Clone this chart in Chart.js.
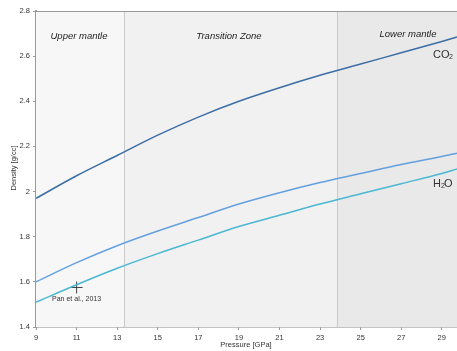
<!DOCTYPE html>
<html>
<head>
<meta charset="utf-8">
<script src="https://cdn.jsdelivr.net/npm/chart.js@4/dist/chart.umd.min.js"></script>
<style>
  html, body { margin: 0; padding: 0; background: #fff; }
  #wrap { width: 457px; height: 351px; }
</style>
</head>
<body>
<div id="wrap"><canvas id="myChart"></canvas></div>
<script>
// pressure values (GPa) used for all curves
const pressure = [9, 11, 13, 15, 17, 19, 21, 23, 25, 27, 29, 29.75];
const co2Density = [1.97, 2.07, 2.16, 2.25, 2.33, 2.40, 2.46, 2.515, 2.565, 2.615, 2.665, 2.685];
const h2oUpper = [1.60, 1.685, 1.76, 1.825, 1.885, 1.945, 1.995, 2.04, 2.08, 2.12, 2.155, 2.17];
const h2oLower = [1.51, 1.587, 1.66, 1.725, 1.785, 1.845, 1.895, 1.945, 1.99, 2.035, 2.08, 2.10];

const panPoint = [{ x: 11, y: 1.575 }];

const xTicks = [9, 11, 13, 15, 17, 19, 21, 23, 25, 27, 29];
const yTicks = [1.4, 1.6, 1.8, 2.0, 2.2, 2.4, 2.6, 2.8];

// mantle zone boundaries (GPa)
const zoneEdges = [9, 13.33, 23.83, 29.75];
const zoneNames = ['Upper mantle', 'Transition Zone', 'Lower mantle'];
const zoneColors = ['#f7f7f7', '#f1f1f1', '#e9e9e9'];

const FONT = '"Liberation Sans", Arial, sans-serif';

function toPoints(ys) {
    return pressure.map((p, i) => ({ x: p, y: ys[i] }));
}

const zonesPlugin = {
    id: 'zones',
    beforeDatasetsDraw(chart) {
        const { ctx, chartArea, scales } = chart;
        const x = scales.x;
        ctx.save();
        for (let i = 0; i < zoneNames.length; i++) {
            const x0 = x.getPixelForValue(zoneEdges[i]);
            const x1 = x.getPixelForValue(zoneEdges[i + 1]);
            ctx.fillStyle = zoneColors[i];
            ctx.fillRect(x0, chartArea.top, x1 - x0, chartArea.bottom - chartArea.top);
        }
        // separators
        ctx.strokeStyle = '#c9c9c9';
        ctx.lineWidth = 1;
        [1, 2].forEach(i => {
            const px = Math.round(x.getPixelForValue(zoneEdges[i])) + 0.5;
            ctx.beginPath();
            ctx.moveTo(px, chartArea.top);
            ctx.lineTo(px, chartArea.bottom);
            ctx.stroke();
        });
        // top frame line
        ctx.strokeStyle = '#999';
        ctx.beginPath();
        ctx.moveTo(chartArea.left, chartArea.top + 0.5);
        ctx.lineTo(chartArea.right, chartArea.top + 0.5);
        ctx.stroke();
        ctx.restore();
    },
    afterDatasetsDraw(chart) {
        const { ctx, scales } = chart;
        const x = scales.x;
        ctx.save();
        ctx.fillStyle = '#222';
        ctx.textBaseline = 'middle';
        ctx.font = 'italic 9.5px ' + FONT;
        ctx.textAlign = 'center';
        ctx.fillText(zoneNames[0], 79, 36);
        ctx.fillText(zoneNames[1], 229, 36);
        ctx.fillText(zoneNames[2], 408, 34);

        // species labels
        ctx.fillStyle = '#333';
        ctx.textAlign = 'left';
        ctx.font = '11px ' + FONT;
        ctx.fillText('CO', 433, 55);
        ctx.font = '7px ' + FONT;
        ctx.fillText('2', 449, 57);
        ctx.font = '11px ' + FONT;
        ctx.fillText('H', 433, 184);
        ctx.font = '7px ' + FONT;
        ctx.fillText('2', 441, 186);
        ctx.font = '11px ' + FONT;
        ctx.fillText('O', 444, 184);

        // Pan et al. label
        ctx.font = '7px ' + FONT;
        ctx.textAlign = 'center';
        ctx.fillText('Pan et al., 2013', x.getPixelForValue(11), 299);

        // axis titles
        ctx.font = '7.5px ' + FONT;
        ctx.fillText('Pressure [GPa]', 246, 345);
        ctx.translate(14, 168);
        ctx.rotate(-Math.PI / 2);
        ctx.fillText('Density [g/cc]', 0, 0);
        ctx.restore();
    }
};

const data = {
    datasets: [
        {
            label: 'CO2',
            data: toPoints(co2Density),
            borderColor: '#3c6ea6',
            borderWidth: 1.5,
            pointRadius: 0,
            cubicInterpolationMode: 'monotone'
        },
        {
            label: 'H2O (upper)',
            data: toPoints(h2oUpper),
            borderColor: '#64a0e0',
            borderWidth: 1.5,
            pointRadius: 0,
            cubicInterpolationMode: 'monotone'
        },
        {
            label: 'H2O (lower)',
            data: toPoints(h2oLower),
            borderColor: '#4ab7d3',
            borderWidth: 1.5,
            pointRadius: 0,
            cubicInterpolationMode: 'monotone'
        },
        {
            type: 'scatter',
            label: 'Pan et al., 2013',
            data: panPoint,
            pointStyle: 'cross',
            pointRadius: 6,
            borderColor: '#444',
            borderWidth: 1,
            backgroundColor: '#444'
        }
    ]
};

const config = {
    type: 'line',
    data: data,
    options: {
        responsive: true,
        maintainAspectRatio: false,
        animation: false,
        layout: { autoPadding: false, padding: { top: 11, right: 0, left: 0, bottom: 0 } },
        plugins: {
            legend: { display: false },
            tooltip: { enabled: false }
        },
        scales: {
            x: {
                type: 'linear',
                min: 9,
                max: 29.75,
                afterBuildTicks: s => { s.ticks = xTicks.map(v => ({ value: v })); },
                afterFit: s => { s.height = 24; s.paddingLeft = 0; s.paddingRight = 0; },
                grid: { drawOnChartArea: false, tickLength: 3, color: '#999' },
                border: { color: '#888', width: 1.5 },
                ticks: {
                    font: { size: 7.5, family: FONT },
                    color: '#333',
                    padding: 3,
                    maxRotation: 0
                }
            },
            y: {
                min: 1.4,
                max: 2.8,
                afterBuildTicks: s => { s.ticks = yTicks.map(v => ({ value: v })); },
                afterFit: s => { s.width = 36; },
                grid: { drawOnChartArea: false, tickLength: 3, color: '#999' },
                border: { color: '#999', width: 2 },
                ticks: {
                    font: { size: 7.5, family: FONT },
                    color: '#333',
                    padding: 3,
                    callback: v => String(Math.round(v * 10) / 10)
                }
            }
        }
    },
    plugins: [zonesPlugin]
};

const ctx = document.getElementById('myChart').getContext('2d');
new Chart(ctx, config);
</script>
</body>
</html>
